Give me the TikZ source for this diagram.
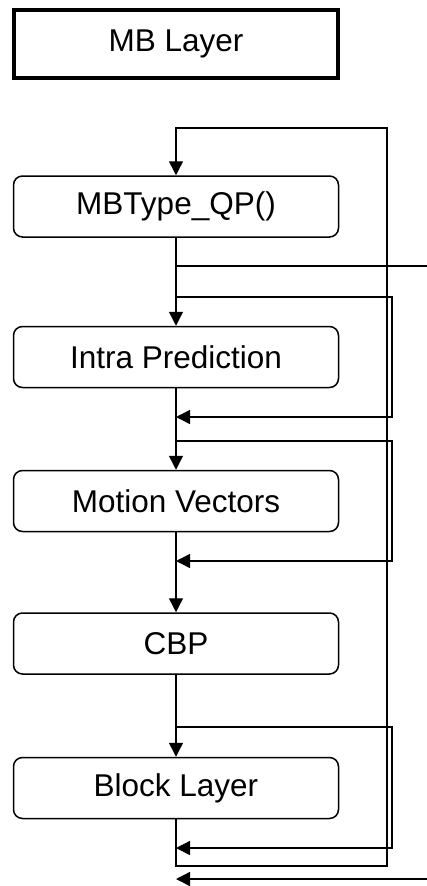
\documentclass[tikz,border=0pt]{standalone}
\usepackage{fontspec}
\setmainfont{Liberation Sans}
\usetikzlibrary{arrows.meta}
\begin{document}
\begin{tikzpicture}[x=1pt,y=-1pt,
  layerbox/.style={draw, line width=4pt, minimum width=324.5pt, minimum height=67.5pt,
    inner sep=0pt, font=\fontsize{31.5}{36}\selectfont},
  stagebox/.style={draw, line width=1.5pt, rounded corners=9pt, minimum width=325pt,
    minimum height=61pt, inner sep=0pt, font=\fontsize{31.5}{36}\selectfont},
  flow/.style={line width=1.4pt},
  tip/.style={flow, -{Triangle[length=14pt,width=14pt]}}]
\useasboundingbox (0,0) rectangle (427,886);

% title
\node[layerbox] (mb) at (176,43.75) {MB Layer};

% processing stages
\node[stagebox] (qp)    at (176,206.5) {MBType\_QP()};
\node[stagebox] (intra) at (176,357)   {Intra Prediction};
\node[stagebox] (mv)    at (176,501)   {Motion Vectors};
\node[stagebox] (cbp)   at (176,643.5) {CBP};
\node[stagebox] (blk)   at (176,788)   {Block Layer};

% corner points of the loops
\coordinate (top)   at (176,128);
\coordinate (topr)  at (387,128);
\coordinate (botr)  at (387,866);
\coordinate (bot)   at (176,866);
\coordinate (outa)  at (176,266);
\coordinate (outb)  at (427,266);
\coordinate (ina)   at (427,879);
\coordinate (inb)   at (176,879);

\coordinate (s1a) at (176,297); \coordinate (s1b) at (392,297);
\coordinate (s1c) at (392,417); \coordinate (s1d) at (176,417);
\coordinate (s2a) at (176,441); \coordinate (s2b) at (392,441);
\coordinate (s2c) at (392,561); \coordinate (s2d) at (176,561);
\coordinate (s3a) at (176,727); \coordinate (s3b) at (392,727);
\coordinate (s3c) at (392,848); \coordinate (s3d) at (176,848);

% main chain
\draw[tip] (qp.south) -- (intra.north);
\draw[tip] (intra.south) -- (mv.north);
\draw[tip] (mv.south) -- (cbp.north);
\draw[tip] (cbp.south) -- (blk.north);

% outer loop back to the top
\draw[tip] (blk.south) -- (bot) -- (botr) -- (topr) -- (top) -- (qp.north);

% exit and entry
\draw[flow] (outa) -- (outb);
\draw[tip] (ina) -- (inb);

% skip paths
\draw[tip] (s1a) -- (s1b) -- (s1c) -- (s1d);
\draw[tip] (s2a) -- (s2b) -- (s2c) -- (s2d);
\draw[tip] (s3a) -- (s3b) -- (s3c) -- (s3d);
\end{tikzpicture}
\end{document}
